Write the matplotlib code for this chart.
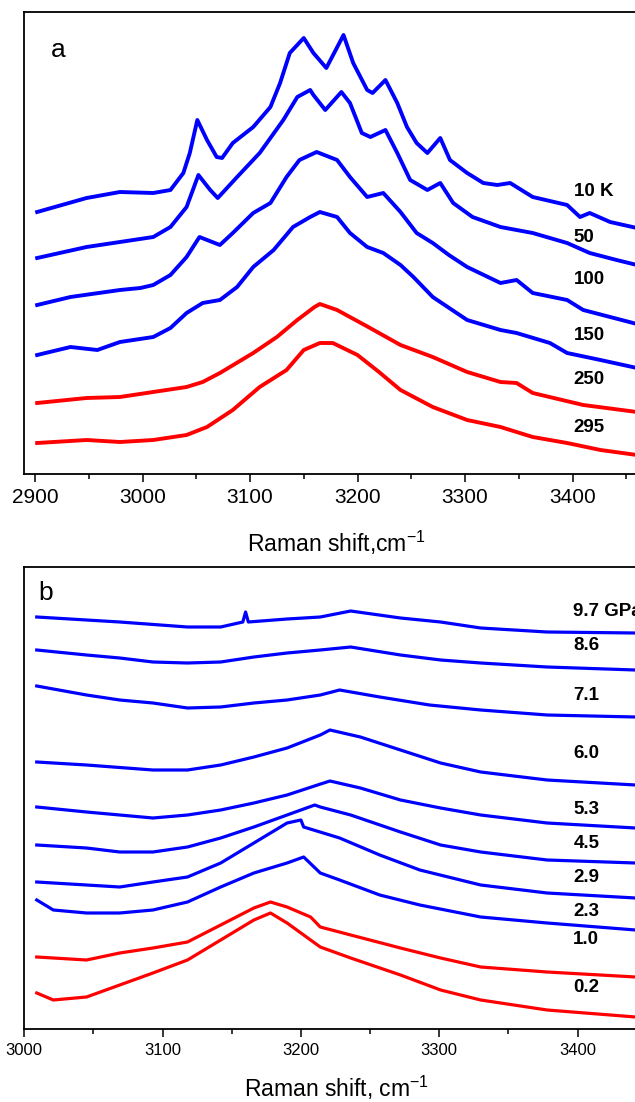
import matplotlib
matplotlib.use('Agg')
import matplotlib.pyplot as plt
from matplotlib.ticker import MultipleLocator

plt.rcParams['font.family'] = ['Liberation Sans', 'DejaVu Sans']
plt.rcParams['mathtext.default'] = 'regular'

BLUE = '#0000ff'
RED = '#ff0000'

# ---- panel a: temperature series (Raman shift cm-1, offset intensity a.u.)
t10_x = [2902, 2948, 2979, 3010, 3026, 3038, 3044, 3051, 3060, 3069, 3074, 3084, 3103, 3119,
         3128, 3137, 3150, 3159, 3171, 3187, 3196, 3209, 3214, 3226, 3237, 3246, 3255, 3265,
         3277, 3286, 3302, 3317, 3330, 3342, 3363, 3395, 3407, 3416, 3435, 3460]
t10_y = [262, 276, 282, 281, 284, 301, 321, 354, 334, 317, 316, 331, 347, 367,
         391, 421, 436, 421, 406, 439, 411, 384, 381, 394, 371, 347, 331, 321,
         336, 314, 301, 291, 289, 291, 277, 269, 257, 261, 252, 246]

t50_x = [2902, 2948, 2979, 3010, 3026, 3041, 3052, 3063, 3070, 3088, 3109, 3131, 3144, 3156,
         3159, 3170, 3185, 3193, 3204, 3212, 3226, 3237, 3249, 3265, 3277, 3289, 3307, 3333,
         3363, 3395, 3416, 3441, 3460]
t50_y = [216, 227, 232, 237, 247, 267, 299, 284, 276, 297, 321, 354, 377, 384,
         379, 364, 382, 371, 341, 337, 344, 321, 294, 284, 291, 271, 257, 247,
         241, 231, 221, 214, 209]

t100_x = [2902, 2933, 2979, 2998, 3010, 3026, 3041, 3053, 3072, 3084, 3103, 3119, 3134, 3146,
          3162, 3181, 3193, 3209, 3224, 3240, 3255, 3270, 3285, 3302, 3333, 3348, 3363, 3395,
          3410, 3460]
t100_y = [169, 177, 184, 186, 189, 199, 217, 237, 229, 241, 261, 271, 297, 314,
          322, 314, 297, 277, 281, 262, 241, 231, 219, 207, 191, 194, 181, 174,
          164, 150]

t150_x = [2902, 2933, 2958, 2979, 3010, 3026, 3041, 3056, 3072, 3088, 3103, 3122, 3140, 3156,
          3165, 3181, 3193, 3209, 3224, 3240, 3252, 3270, 3302, 3333, 3348, 3379, 3395, 3426,
          3460]
t150_y = [119, 127, 124, 132, 137, 146, 161, 171, 174, 187, 207, 224, 247, 257,
          262, 257, 241, 227, 221, 209, 197, 177, 154, 144, 141, 131, 121, 114,
          106]

t250_x = [2902, 2948, 2979, 3010, 3041, 3056, 3072, 3103, 3125, 3144, 3160, 3165, 3181, 3210,
          3240, 3270, 3302, 3333, 3348, 3363, 3410, 3460]
t250_y = [71, 76, 77, 82, 87, 92, 101, 121, 137, 154, 167, 170, 164, 147,
          129, 117, 102, 92, 91, 81, 69, 62]

t295_x = [2902, 2948, 2979, 3010, 3041, 3060, 3084, 3109, 3134, 3150, 3165, 3177, 3200, 3220,
          3240, 3270, 3302, 3333, 3363, 3395, 3426, 3460]
t295_y = [31, 34, 32, 34, 39, 47, 64, 87, 104, 124, 131, 131, 119, 102,
          84, 67, 54, 47, 37, 31, 24, 19]

temp_labels = ['10 K', '50', '100', '150', '250', '295']
temp_label_y = [282, 237, 194, 139, 94, 47]

# ---- panel b: pressure series
p97_x = [3009, 3045, 3069, 3118, 3142, 3158, 3160, 3162, 3190, 3214, 3236, 3272, 3301, 3330, 3378, 3442]
p97_y = [412, 409, 407, 402, 402, 407, 417, 407, 410, 412, 418, 411, 407, 401, 397, 396]

p86_x = [3009, 3045, 3069, 3093, 3118, 3142, 3166, 3190, 3214, 3236, 3272, 3301, 3330, 3378, 3442]
p86_y = [379, 374, 371, 367, 366, 367, 372, 376, 379, 382, 374, 369, 366, 362, 359]

p71_x = [3009, 3045, 3069, 3093, 3118, 3142, 3166, 3190, 3214, 3228, 3257, 3293, 3330, 3378, 3442]
p71_y = [343, 334, 329, 326, 321, 322, 326, 329, 334, 339, 332, 324, 319, 314, 312]

p60_x = [3009, 3045, 3093, 3118, 3142, 3166, 3190, 3214, 3221, 3243, 3272, 3301, 3330, 3378, 3442]
p60_y = [267, 264, 259, 259, 264, 272, 281, 294, 299, 292, 279, 266, 257, 249, 244]

p53_x = [3009, 3045, 3069, 3093, 3118, 3142, 3166, 3190, 3212, 3221, 3243, 3272, 3301, 3330, 3378, 3442]
p53_y = [222, 217, 214, 211, 214, 219, 226, 234, 244, 248, 241, 229, 221, 214, 206, 201]

p45_x = [3009, 3045, 3069, 3093, 3118, 3142, 3166, 3190, 3210, 3214, 3236, 3272, 3301, 3330, 3378, 3442]
p45_y = [184, 181, 177, 177, 182, 191, 202, 214, 224, 222, 214, 197, 184, 177, 169, 166]

p29_x = [3009, 3045, 3069, 3093, 3118, 3142, 3166, 3190, 3200, 3202, 3228, 3257, 3286, 3330, 3378, 3442]
p29_y = [147, 144, 142, 147, 152, 166, 186, 206, 209, 202, 191, 174, 159, 144, 136, 131]

p23_x = [3009, 3021, 3045, 3069, 3093, 3118, 3142, 3166, 3190, 3202, 3214, 3228, 3257, 3286, 3330, 3378, 3442]
p23_y = [129, 119, 116, 116, 119, 127, 142, 156, 166, 172, 156, 149, 134, 124, 112, 106, 99]

p10_x = [3009, 3045, 3069, 3093, 3118, 3142, 3166, 3178, 3190, 3207, 3214, 3236, 3272, 3301, 3330, 3378, 3442]
p10_y = [72, 69, 76, 81, 87, 104, 121, 127, 122, 112, 102, 94, 81, 71, 62, 57, 52]

p02_x = [3009, 3021, 3045, 3069, 3093, 3118, 3142, 3166, 3178, 3190, 3207, 3214, 3236, 3272, 3301, 3330, 3378, 3442]
p02_y = [36, 29, 32, 44, 56, 69, 89, 109, 116, 106, 89, 82, 71, 54, 39, 29, 19, 12]

pres_labels = ['9.7 GPa', '8.6', '7.1', '6.0', '5.3', '4.5', '2.9', '2.3', '1.0', '0.2']
pres_label_y = [417, 383, 333, 276, 219, 185, 151, 117, 89, 41]


def style_axis(ax, tick_size):
    ax.set_yticks([])
    ax.xaxis.set_major_locator(MultipleLocator(100))
    ax.xaxis.set_minor_locator(MultipleLocator(50))
    ax.tick_params(axis='x', which='major', direction='out', length=6, width=1.1,
                   labelsize=tick_size, pad=4)
    ax.tick_params(axis='x', which='minor', direction='out', length=3.8, width=1.1)
    for s in ax.spines.values():
        s.set_linewidth(1.3)


W, H = 635, 1102
fig = plt.figure(figsize=(W / 100, H / 100), dpi=100)

# axes reach past the right edge of the picture, like the cropped original
ax_a = fig.add_axes([24.25 / W, (H - 474) / H, 634.25 / W, 462 / H])
ax_b = fig.add_axes([24.3 / W, (H - 1029) / H, 636.2 / W, 462 / H])

temp_curves = [(t10_x, t10_y, BLUE), (t50_x, t50_y, BLUE), (t100_x, t100_y, BLUE),
               (t150_x, t150_y, BLUE), (t250_x, t250_y, RED), (t295_x, t295_y, RED)]
for x, y, c in temp_curves:
    ax_a.plot(x, y, color=c, lw=2.8, solid_joinstyle='round')
for lab, yy in zip(temp_labels, temp_label_y):
    ax_a.text(3401, yy, lab, fontsize=13.5, fontweight='bold', ha='left', va='center')
ax_a.set_xlim(2890, 3480)
ax_a.set_ylim(0, 462)
style_axis(ax_a, 15)
ax_a.set_xlabel('Raman shift,cm$^{-1}$', fontsize=16.5)
ax_a.xaxis.set_label_coords(0.492, -0.118)
ax_a.text(0.053, 0.918, 'a', transform=ax_a.transAxes, fontsize=19, ha='center', va='center')

pres_curves = [(p97_x, p97_y, BLUE), (p86_x, p86_y, BLUE), (p71_x, p71_y, BLUE),
               (p60_x, p60_y, BLUE), (p53_x, p53_y, BLUE), (p45_x, p45_y, BLUE),
               (p29_x, p29_y, BLUE), (p23_x, p23_y, BLUE), (p10_x, p10_y, RED),
               (p02_x, p02_y, RED)]
for x, y, c in pres_curves:
    ax_b.plot(x, y, color=c, lw=2.3, solid_joinstyle='round')
for lab, yy in zip(pres_labels, pres_label_y):
    ax_b.text(3397, yy, lab, fontsize=13.5, fontweight='bold', ha='left', va='center')
ax_b.set_xlim(3000, 3460)
ax_b.set_ylim(0, 462)
style_axis(ax_b, 12)
ax_b.set_xlabel('Raman shift, cm$^{-1}$', fontsize=16.5)
ax_b.xaxis.set_label_coords(0.49, -0.097)
ax_b.text(0.034, 0.944, 'b', transform=ax_b.transAxes, fontsize=19, ha='center', va='center')

fig.savefig('out.png', dpi=100)
